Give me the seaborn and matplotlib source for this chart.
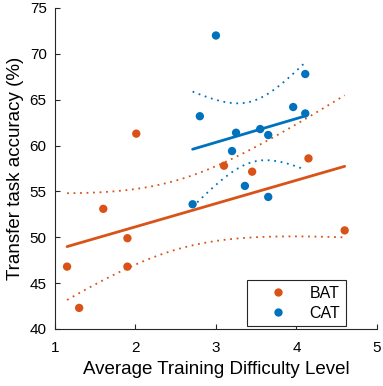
import matplotlib
matplotlib.use("Agg", force=True)
import matplotlib.pyplot as plt
import numpy as np
import pandas as pd
import seaborn as sns

# BAT group (orange)
bat_x = [1.15, 1.30, 1.60, 1.90, 1.90, 2.01, 3.10, 3.45, 4.15, 4.60]
bat_y = [46.8, 42.3, 53.1, 49.9, 46.8, 61.3, 57.8, 57.15, 58.6, 50.75]

# CAT group (blue)
cat_x = [2.71, 2.80, 3.00, 3.20, 3.25, 3.36, 3.55, 3.65, 3.65, 3.96, 4.11, 4.11]
cat_y = [53.6, 63.2, 72.0, 59.4, 61.4, 55.6, 61.8, 61.15, 54.4, 64.2, 63.5, 67.8]

groups = ["BAT", "CAT"]
colors = {"BAT": "#D95319", "CAT": "#0072BD"}
x_ticks = [1, 2, 3, 4, 5]
y_ticks = [40, 45, 50, 55, 60, 65, 70, 75]

sns.set_style("ticks")
plt.rcParams["font.family"] = ["Liberation Sans", "DejaVu Sans"]

df = pd.DataFrame({
    "x": bat_x + cat_x,
    "y": bat_y + cat_y,
    "group": ["BAT"] * len(bat_x) + ["CAT"] * len(cat_x),
})


def fit_with_ci(x, y, mult=2.1, n=60):
    # linear fit plus confidence band of the mean
    x = np.asarray(x)
    y = np.asarray(y)
    slope, icpt = np.polyfit(x, y, 1)
    resid = y - (slope * x + icpt)
    s = np.sqrt(np.sum(resid ** 2) / (len(x) - 2))
    xs = np.linspace(x.min(), x.max(), n)
    fit = slope * xs + icpt
    se = s * np.sqrt(1 / len(x) + (xs - x.mean()) ** 2 / np.sum((x - x.mean()) ** 2))
    return pd.DataFrame({"x": xs, "fit": fit, "lo": fit - mult * se, "hi": fit + mult * se})


fig = plt.figure(figsize=(3.83, 3.86), dpi=100)
ax = fig.add_axes([0.1436, 0.1477, 0.8404, 0.8316])

for g, (gx, gy) in zip(groups, [(bat_x, bat_y), (cat_x, cat_y)]):
    band = fit_with_ci(gx, gy)
    sns.lineplot(data=band, x="x", y="fit", color=colors[g], lw=2.0, ax=ax)
    sns.lineplot(data=band, x="x", y="lo", color=colors[g], lw=1.3,
                 linestyle=(0, (1, 2.6)), ax=ax)
    sns.lineplot(data=band, x="x", y="hi", color=colors[g], lw=1.3,
                 linestyle=(0, (1, 2.6)), ax=ax)

sns.scatterplot(data=df, x="x", y="y", hue="group", palette=colors,
                s=36, edgecolor=None, linewidth=0, ax=ax, zorder=3)

ax.set_xlim(1, 5)
ax.set_ylim(40, 75)
ax.set_xticks(x_ticks)
ax.set_yticks(y_ticks)
ax.tick_params(direction="in", length=3.5, labelsize=11, colors="#262626",
               labelcolor="black", width=0.8)
ax.tick_params(axis="x", pad=9)
ax.tick_params(axis="y", pad=6)
for side in ["left", "bottom"]:
    ax.spines[side].set_color("#262626")
    ax.spines[side].set_linewidth(0.8)
sns.despine(ax=ax)

ax.set_xlabel("Average Training Difficulty Level", fontsize=13.5, labelpad=4,
              color="black")
ax.set_ylabel("Transfer task accuracy (%)", fontsize=13.5, labelpad=4,
              color="black")

leg = ax.legend(loc="lower right", bbox_to_anchor=(0.904, 0.009), borderaxespad=0,
                fontsize=11.5, fancybox=False, framealpha=1, edgecolor="#262626",
                handlelength=3.2, handletextpad=0.35, borderpad=0.35,
                labelspacing=0.3, title=None, labelcolor="black")
leg.get_frame().set_linewidth(0.8)

fig.savefig("out.png", dpi=100)
